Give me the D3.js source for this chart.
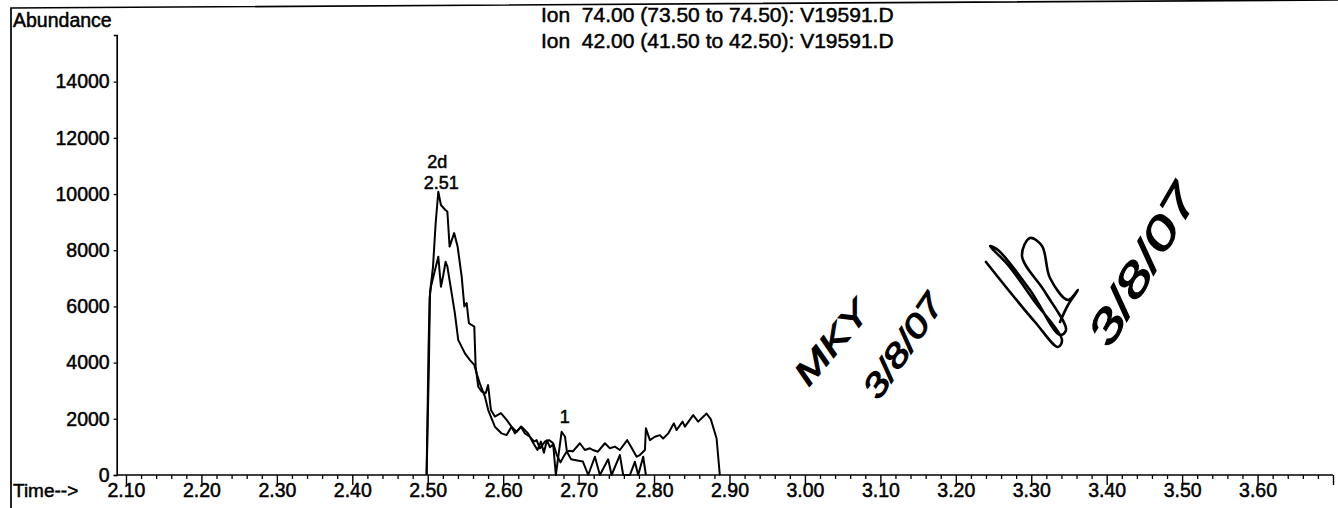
<!DOCTYPE html>
<html>
<head>
<meta charset="utf-8">
<script src="https://cdn.jsdelivr.net/npm/d3@7"></script>
<style>
  html, body { margin: 0; padding: 0; background: #fff; }
  svg { display: block; }
  text { font-family: "Liberation Sans", Arial, sans-serif; fill: #000; }
</style>
</head>
<body>
<svg id="chart" width="1338" height="508"></svg>
<script>
// Extracted ion chromatograms (retention time in minutes, abundance counts)
const ion74Time = [2.4985, 2.5015, 2.5030, 2.5070, 2.5105, 2.5140, 2.5175, 2.5230, 2.5260, 2.5290,
  2.5350, 2.5396, 2.5450, 2.5485, 2.5516, 2.5546, 2.5617, 2.5635, 2.5670, 2.5714,
  2.5768, 2.5800, 2.5838, 2.5890, 2.5970, 2.6046, 2.6110, 2.6178, 2.6235, 2.6288,
  2.6355, 2.6410, 2.6443, 2.6487, 2.6553, 2.6610, 2.6663, 2.6712, 2.6760, 2.6800,
  2.6841, 2.6885, 2.6924, 2.7017, 2.7083, 2.7150, 2.7189, 2.7256, 2.7348, 2.7415,
  2.7481, 2.7547, 2.7644, 2.7706, 2.7769, 2.7812, 2.7879, 2.7892, 2.7945, 2.8011,
  2.8077, 2.8121, 2.8188, 2.8263, 2.8299, 2.8378, 2.8409, 2.8519, 2.8585, 2.8696,
  2.8753, 2.8829, 2.8872];
const ion74Abund = [0, 3860, 6470, 7420, 8960, 10080, 9610, 9440, 9380, 8130,
  8610, 8130, 7060, 6000, 6120, 5400, 5280, 3860, 3140, 2970,
  2910, 3200, 2310, 2080, 2200, 1960, 1720, 1540, 1720, 1480,
  1360, 1190, 1240, 950, 1190, 1240, 1130, 700, 450, 650,
  830, 860, 840, 1130, 890, 950, 890, 830, 1130, 950,
  1010, 890, 1240, 950, 650, 710, 890, 1660, 1240, 1360,
  1420, 1300, 1480, 1840, 1600, 1900, 1720, 2130, 1900, 2190,
  1980, 1300, 0];

const ion42Time = [2.4985, 2.5010, 2.5025, 2.5042, 2.5086, 2.5140, 2.5175, 2.5205, 2.5237, 2.5260,
  2.5317, 2.5360, 2.5404, 2.5493, 2.5560, 2.5617, 2.5648, 2.5690, 2.5758, 2.5802,
  2.5890, 2.5980, 2.6046, 2.6110, 2.6156, 2.6244, 2.6330, 2.6400, 2.6455, 2.6500,
  2.6540, 2.6580, 2.6620, 2.6663, 2.6698, 2.6775, 2.6820, 2.6845, 2.6900, 2.7000,
  2.7057, 2.7127, 2.7216, 2.7282, 2.7392, 2.7437, 2.7547, 2.7591, 2.7680, 2.7746,
  2.7790, 2.7856, 2.7892];
const ion42Abund = [0, 4400, 6300, 6700, 7180, 7770, 6700, 7100, 7590, 7420,
  6470, 5750, 4810, 4330, 4090, 3920, 3620, 3260, 2790, 2310,
  1720, 1480, 1420, 1720, 1480, 1720, 1480, 1130, 890, 1190,
  790, 1240, 990, 1090, 0, 1540, 1360, 830, 560, 510,
  480, 0, 650, 0, 560, 0, 710, 0, 0, 470,
  0, 650, 0];

// Axis ticks
const yTickValues = [0, 2000, 4000, 6000, 8000, 10000, 12000, 14000];
const xMajorTicks = [2.10, 2.20, 2.30, 2.40, 2.50, 2.60, 2.70, 2.80, 2.90, 3.00, 3.10, 3.20, 3.30, 3.40, 3.50, 3.60, 3.70];
const xTickLabels = ["2.10", "2.20", "2.30", "2.40", "2.50", "2.60", "2.70", "2.80", "2.90", "3.00", "3.10", "3.20", "3.30", "3.40", "3.50", "3.60"];

// Integrated peaks: retention time of apex, compound tag, printed RT
const peakTimes = [2.5140, 2.6775];
const peakTags = ["2d", "1"];
const peakRT = ["2.51", ""];

// Header lines
const headerLines = ["Ion  74.00 (73.50 to 74.50): V19591.D", "Ion  42.00 (41.50 to 42.50): V19591.D"];

const svg = d3.select("#chart");

const x = d3.scaleLinear().domain([2.0877, 3.70]).range([116.7, 1333]);
const y = d3.scaleLinear().domain([0, 15660]).range([475, 35]);

const heavy = sel => sel.attr("stroke", "#000").attr("stroke-width", 0.5);

// Page frame
svg.append("path")
  .attr("d", "M11,508 L11,8 L1338,0")
  .attr("fill", "none").attr("stroke", "#000").attr("stroke-width", 1.7);

// Y axis
const yAxis = d3.axisLeft(y).tickValues(yTickValues).tickSize(3).tickPadding(4)
  .tickFormat(d3.format("d"));
const gy = svg.append("g").attr("transform", `translate(${x.range()[0]},0)`).call(yAxis);
gy.select(".domain").attr("stroke-width", 1.7);
gy.selectAll(".tick line").attr("stroke-width", 1.3);
gy.selectAll(".tick text").attr("font-size", 19.5).attr("font-family", "Liberation Sans, Arial, sans-serif")
  .call(heavy);

// X axis: minor ticks every 0.02, major every 0.10
const minorTicks = d3.range(0, 81).map(i => +(2.10 + i * 0.02).toFixed(2))
  .filter(t => !xMajorTicks.some(m => Math.abs(m - t) < 1e-6));
const xAxisMinor = d3.axisBottom(x).tickValues(minorTicks).tickSize(4).tickFormat("");
const gxm = svg.append("g").attr("transform", `translate(0,${y(0)})`).call(xAxisMinor);
gxm.select(".domain").attr("stroke-width", 1.7).attr("d", `M${x.range()[0]},0H${x.range()[1]}`);
gxm.selectAll(".tick line").attr("stroke-width", 1.3);

const labelBaseline = 497;
const xAxisMajor = d3.axisBottom(x).tickValues(xMajorTicks).tickSize(10)
  .tickFormat((d, i) => xTickLabels[i] || "");
const gx = svg.append("g").attr("transform", `translate(0,${y(0)})`).call(xAxisMajor);
gx.select(".domain").remove();
gx.selectAll(".tick line").attr("stroke-width", 1.4);
gx.selectAll(".tick text").attr("font-size", 19.5).attr("font-family", "Liberation Sans, Arial, sans-serif")
  .attr("dy", null).attr("y", labelBaseline - y(0))
  .call(heavy);

svg.append("text").attr("x", 13).attr("y", labelBaseline).attr("font-size", 19)
  .call(heavy).text("Time-->");

// Axis title
svg.append("text").attr("x", 13).attr("y", 27).attr("font-size", 19.5)
  .call(heavy).text("Abundance");

// Header
svg.selectAll("text.header").data(headerLines).join("text")
  .attr("class", "header")
  .attr("x", 541).attr("y", (d, i) => 22 + i * 26)
  .attr("font-size", 21).call(heavy)
  .attr("xml:space", "preserve").style("white-space", "pre")
  .text(d => d);

// Traces
const line = d3.line().x(d => x(d[0])).y(d => y(d[1]));
const traces = [
  d3.zip(ion74Time, ion74Abund),
  d3.zip(ion42Time, ion42Abund)
];
svg.append("g").selectAll("path").data(traces).join("path")
  .attr("d", line)
  .attr("fill", "none").attr("stroke", "#000")
  .attr("stroke-width", 2).attr("stroke-linejoin", "round");

// Peak annotations, placed above the apex of the trace that carries them
function apexValue(t) {
  let best = 0;
  traces.forEach(tr => tr.forEach(p => { if (Math.abs(p[0] - t) < 0.0015) best = Math.max(best, p[1]); }));
  return best;
}
peakTimes.forEach((t, i) => {
  const px = x(t) + 3, py = y(apexValue(t));
  if (peakRT[i]) {
    svg.append("text").attr("x", px).attr("y", py - 3).attr("text-anchor", "middle")
      .attr("font-size", 18).call(heavy).text(peakRT[i]);
    svg.append("text").attr("x", px - 4).attr("y", py - 24).attr("text-anchor", "middle")
      .attr("font-size", 18).call(heavy).text(peakTags[i]);
  } else {
    svg.append("text").attr("x", px).attr("y", py - 9).attr("text-anchor", "middle")
      .attr("font-size", 18).call(heavy).text(peakTags[i]);
  }
});

// Reviewer initials and dates written on the printout
const ink = svg.append("g").attr("fill", "#000").attr("stroke", "#000").attr("stroke-width", 1.1)
  .attr("font-style", "italic").attr("text-anchor", "middle");
ink.append("text").attr("transform", "translate(840,350) rotate(-50)")
  .attr("font-size", 32)
  .attr("textLength", 98).attr("lengthAdjust", "spacingAndGlyphs").text("MKY");
ink.append("text").attr("transform", "translate(912,352) rotate(-56)")
  .attr("font-size", 32)
  .attr("textLength", 118).attr("lengthAdjust", "spacingAndGlyphs").text("3/8/07");
ink.append("text").attr("transform", "translate(1155,272) rotate(-60)")
  .attr("font-size", 42)
  .attr("textLength", 178).attr("lengthAdjust", "spacingAndGlyphs").text("3/8/07");

// Signature stroke
const pen = [[986, 262], [1010, 292], [1035, 322], [1058, 347], [1062, 340], [1035, 302], [1008, 265],
  [990, 246], [998, 250], [1030, 290], [1060, 335], [1066, 330], [1045, 292], [1022, 256],
  [1030, 238], [1042, 246], [1050, 278], [1068, 300], [1078, 290], [1068, 305], [1060, 322]];
svg.append("path")
  .attr("d", d3.line().curve(d3.curveCatmullRom)(pen))
  .attr("fill", "none").attr("stroke", "#000").attr("stroke-width", 2.6).attr("stroke-linecap", "round");
</script>
</body>
</html>
